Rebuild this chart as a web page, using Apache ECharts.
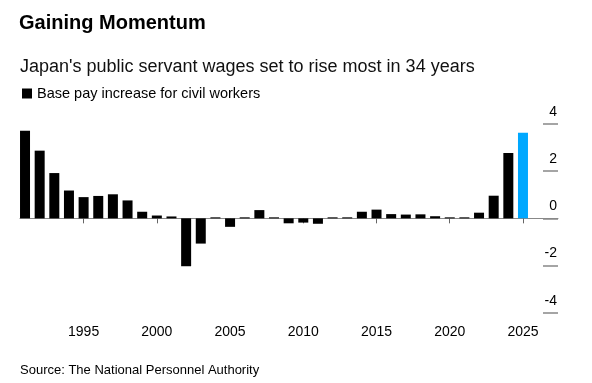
<!DOCTYPE html>
<html>
<head>
<meta charset="utf-8">
<script src="https://cdn.jsdelivr.net/npm/echarts@6/dist/echarts.min.js"></script>
<style>
html,body{margin:0;padding:0;background:#fff;}
#chart{width:592px;height:383px;}
</style>
</head>
<body>
<div id="chart"></div>
<script>
var years = [1991,1992,1993,1994,1995,1996,1997,1998,1999,2000,2001,2002,2003,2004,2005,2006,2007,2008,2009,2010,2011,2012,2013,2014,2015,2016,2017,2018,2019,2020,2021,2022,2023,2024,2025];
var payIncrease = [3.71,2.87,1.92,1.18,0.90,0.95,1.02,0.76,0.28,0.12,0.08,-2.03,-1.07,0,-0.36,0,0.35,0,-0.21,-0.18,-0.23,0,0,0.28,0.37,0.18,0.16,0.17,0.09,0,0,0.24,0.96,2.77,3.63];
var highlightYear = 2025;

var FONT = 'Liberation Sans';
var barData = payIncrease.map(function(v, i){
  if (years[i] === highlightYear) return {value: v, itemStyle: {color: '#00a8ff'}};
  return v;
});
var showYear = function(idx){ return years[idx] % 5 === 0; };

var chart = echarts.init(document.getElementById('chart'), null, {renderer:'canvas'});
chart.setOption({
  animation: false,
  backgroundColor: '#fff',
  title: [
    {text: 'Gaining Momentum', left: 19, top: 13, padding: 0,
     textStyle: {fontFamily: FONT, fontSize: 20, fontWeight: 'bold', color: '#000'}},
    {text: "Japan's public servant wages set to rise most in 34 years", left: 20, top: 58, padding: 0,
     textStyle: {fontFamily: FONT, fontSize: 18, fontWeight: 'normal', color: '#111'}},
    {text: 'Source: The National Personnel Authority', left: 20, top: 364, padding: 0,
     textStyle: {fontFamily: FONT, fontSize: 13, fontWeight: 'normal', color: '#000'}}
  ],
  legend: {
    left: 22, top: 86, padding: 0, icon: 'rect', itemWidth: 10, itemHeight: 10,
    textStyle: {fontFamily: FONT, fontSize: 14.5, color: '#000'},
    data: ['Base pay increase for civil workers']
  },
  grid: [
    {left: 17.7, top: 124, width: 512.6, height: 188.7},
    {left: 20, top: 124, width: 538, height: 188.7}
  ],
  xAxis: [
    {type: 'category', gridIndex: 0, data: years, position: 'bottom',
     axisLine: {show: false},
     axisTick: {show: true, alignWithLabel: true, interval: showYear, length: 5, lineStyle: {color: '#666', width: 1}},
     axisLabel: {interval: showYear, margin: 12, fontFamily: FONT, fontSize: 14, color: '#000'},
     splitLine: {show: false}},
    {type: 'value', gridIndex: 1, min: 0, max: 1, show: true,
     axisLine: {show: true, onZero: true, lineStyle: {color: '#888', width: 1}},
     axisTick: {show: false}, axisLabel: {show: false}, splitLine: {show: false}}
  ],
  yAxis: [
    {type: 'value', gridIndex: 0, min: -4, max: 4, show: false},
    {type: 'value', gridIndex: 1, position: 'right', min: -4, max: 4, interval: 2,
     axisLine: {show: false, onZero: false},
     axisTick: {show: true, inside: true, length: 15, lineStyle: {color: '#888', width: 1.5}},
     axisLabel: {inside: true, margin: 1, align: 'right', verticalAlign: 'bottom', padding: [0,0,5,0],
       fontFamily: FONT, fontSize: 14, color: '#000'},
     splitLine: {show: false}}
  ],
  series: [{
    name: 'Base pay increase for civil workers',
    type: 'bar', xAxisIndex: 0, yAxisIndex: 0,
    barWidth: 10, barMinHeight: 1,
    itemStyle: {color: '#000'},
    data: barData
  }]
});
</script>
</body>
</html>
